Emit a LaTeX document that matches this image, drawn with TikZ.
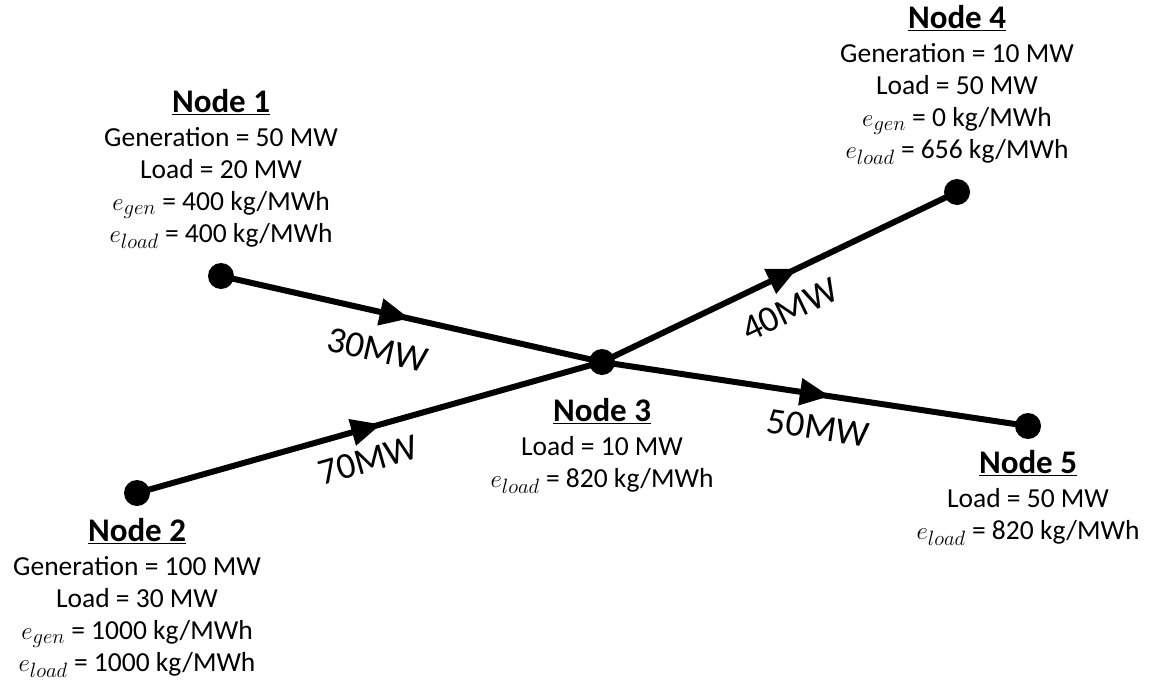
\documentclass[tikz,border=0pt]{standalone}
\usepackage{fontspec}
\setmainfont{Carlito}
\usetikzlibrary{positioning,decorations.markings,arrows.meta}
\newcommand{\busname}[1]{{\fontsize{33}{36}\selectfont\underline{\textbf{#1}}}}

\begin{document}
\begin{tikzpicture}[x=1pt, y=-1pt,
    bus/.style={circle, fill=black, inner sep=0pt, minimum size=26pt},
    line/.style={line width=6pt, postaction={decorate},
      decoration={markings, mark=at position #1 with {\arrow{Triangle[length=30pt,width=26pt]}}}},
    info/.style={align=center, inner sep=0pt, font=\fontsize{27.5}{32}\selectfont},
    flow/.style={sloped, anchor=center, inner sep=0pt, font=\fontsize{37}{40}\selectfont}]
  \useasboundingbox (0,0) rectangle (1151,688);

  % buses
  \node[bus] (n1) at (221,276) {};
  \node[bus] (n2) at (137,493) {};
  \node[bus] (n3) at (602,362) {};
  \node[bus] (n4) at (957,192) {};
  \node[bus] (n5) at (1028,426) {};

  % lines with flows
  \draw[line=0.495] (n1.center) -- node[flow, pos=0.433, yshift=-38pt] {30MW} (n3.center);
  \draw[line=0.525] (n2.center) -- node[flow, pos=0.479, yshift=-31pt] {70MW} (n3.center);
  \draw[line=0.55] (n3.center) -- node[flow, pos=0.488, yshift=-34pt] {40MW} (n4.center);
  \draw[line=0.535] (n3.center) -- node[flow, pos=0.519, yshift=-33pt] {50MW} (n5.center);

  % node data
  \node[info, above=14pt of n1] (t1) {\busname{Node 1}\\[2pt]Generation = 50 MW\\Load = 20 MW\\
    $e_{gen}$ = 400 kg/MWh\\$e_{load}$ = 400 kg/MWh};
  \node[info, below=12pt of n2] (t2) {\busname{Node 2}\\[2pt]Generation = 100 MW\\Load = 30 MW\\
    $e_{gen}$ = 1000 kg/MWh\\$e_{load}$ = 1000 kg/MWh};
  \node[info, below=23pt of n3] (t3) {\busname{Node 3}\\[2pt]Load = 10 MW\\$e_{load}$ = 820 kg/MWh};
  \node[info, above=14pt of n4] (t4) {\busname{Node 4}\\[2pt]Generation = 10 MW\\Load = 50 MW\\
    $e_{gen}$ = 0 kg/MWh\\$e_{load}$ = 656 kg/MWh};
  \node[info, below=11pt of n5] (t5) {\busname{Node 5}\\[2pt]Load = 50 MW\\$e_{load}$ = 820 kg/MWh};
\end{tikzpicture}
\end{document}
